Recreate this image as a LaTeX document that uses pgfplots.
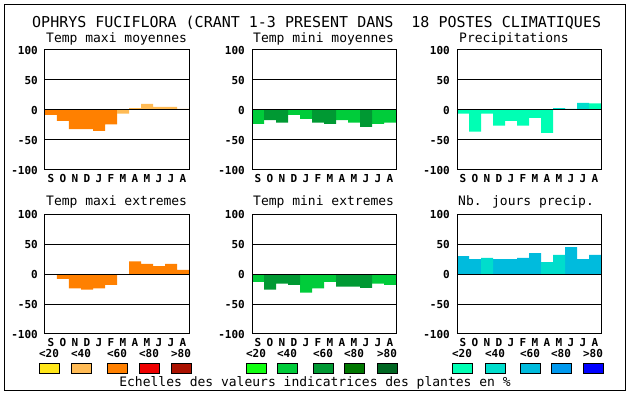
\documentclass[border=0pt]{standalone}
\usepackage{pgfplots}
\pgfplotsset{compat=1.18}
\usepackage{fontspec}
\setmainfont{DejaVu Sans Mono}
\definecolor{or20}{HTML}{FFE619}
\definecolor{or40}{HTML}{FFBB55}
\definecolor{or60}{HTML}{FF8000}
\definecolor{or80}{HTML}{EE0000}
\definecolor{or99}{HTML}{AA1100}
\definecolor{gr20}{HTML}{11FF11}
\definecolor{gr40}{HTML}{00CC3A}
\definecolor{gr60}{HTML}{009933}
\definecolor{gr80}{HTML}{007700}
\definecolor{gr99}{HTML}{006622}
\definecolor{bl20}{HTML}{00FFB4}
\definecolor{bl40}{HTML}{00DDCC}
\definecolor{bl60}{HTML}{00BBDD}
\definecolor{bl80}{HTML}{0099EE}
\definecolor{bl99}{HTML}{0000FF}
\newcommand{\tickfont}{\bfseries\fontsize{11}{11}\selectfont}
\newcommand{\subfont}{\fontsize{13}{13}\selectfont}
\pgfplotsset{panel/.style={
  scale only axis, width=144pt, height=120pt, anchor=south west,
  xmin=-0.5, xmax=11.5, ymin=-100, ymax=100,
  xtick={0,...,11}, xticklabels={S,O,N,D,J,F,M,A,M,J,J,A},
  ytick={-100,-50,0,50,100}, yticklabels={-100,-50,0,50,100},
  major tick length=0pt,
  ymajorgrids, grid style={black, line width=1pt},
  axis line style={line width=1pt},
  axis on top,
  tick label style={font=\tickfont},
  yticklabel style={anchor=east, inner sep=0pt, xshift=-7pt},
  xticklabel style={anchor=north, inner sep=0pt, yshift=-4pt},
  every axis plot/.append style={ybar, bar width=1, bar shift=0pt, draw=none},
}}
\begin{document}
\begin{tikzpicture}[x=1pt,y=1pt]
\useasboundingbox (0,0) rectangle (630,394);
\draw[line width=1pt] (4,3) rectangle (625,389);
\node[anchor=base west, inner sep=0pt, font=\fontsize{15}{15}\selectfont] at (32,366) {OPHRYS FUCIFLORA (CRANT 1-3 PRESENT DANS\ \ 18 POSTES CLIMATIQUES};
% subtitles
\node[anchor=base west, inner sep=0pt, font=\subfont] at (46,351) {Temp maxi moyennes};
\node[anchor=base west, inner sep=0pt, font=\subfont] at (253,351) {Temp mini moyennes};
\node[anchor=base west, inner sep=0pt, font=\subfont] at (459,351) {Precipitations};
\node[anchor=base west, inner sep=0pt, font=\subfont] at (46,188) {Temp maxi extremes};
\node[anchor=base west, inner sep=0pt, font=\subfont] at (253,188) {Temp mini extremes};
\node[anchor=base west, inner sep=0pt, font=\subfont] at (458,188) {Nb. jours precip.};

% Panel 1
\begin{axis}[panel, at={(45pt,224pt)}]
\addplot[fill=or60] coordinates {(0,-8) (1,-18) (2,-32) (3,-32) (4,-35) (5,-24)};
\addplot[fill=or40] coordinates {(6,-6) (7,3) (8,10) (9,5) (10,5) (11,2)};
\end{axis}
% Panel 2
\begin{axis}[panel, at={(252pt,224pt)}]
\addplot[fill=gr40] coordinates {(0,-23) (3,-8) (4,-15) (7,-17) (8,-21) (10,-23) (11,-21)};
\addplot[fill=gr60] coordinates {(1,-17) (2,-21) (5,-21) (6,-23) (9,-28)};
\end{axis}
% Panel 3
\begin{axis}[panel, at={(457pt,224pt)}]
\addplot[fill=bl20] coordinates {(0,-6) (1,-36) (2,-6) (3,-26) (4,-18) (5,-26) (6,-13) (7,-38) (11,11)};
\addplot[fill=bl40] coordinates {(8,3) (9,2) (10,12)};
\end{axis}
% Panel 4
\begin{axis}[panel, at={(45pt,60pt)}]
\addplot[fill=or60] coordinates {(1,-8) (2,-24) (3,-26) (4,-24) (5,-18) (7,21) (8,17) (9,13) (10,17) (11,7)};
\end{axis}
% Panel 5
\begin{axis}[panel, at={(252pt,60pt)}]
\addplot[fill=gr40] coordinates {(0,-13) (4,-31) (5,-24) (6,-13) (10,-16) (11,-18)};
\addplot[fill=gr60] coordinates {(1,-26) (2,-16) (3,-18) (7,-21) (8,-21) (9,-23)};
\end{axis}
% Panel 6
\begin{axis}[panel, at={(457pt,60pt)}]
\addplot[fill=bl60] coordinates {(0,30) (1,25) (3,25) (4,25) (5,27) (6,35) (9,45) (10,25) (11,32)};
\addplot[fill=bl40] coordinates {(2,27) (7,20) (8,32)};
\end{axis}

% legend
\foreach \xa/\c/\t in {39/or20/<20, 71/or40/<40, 107/or60/<60, 139/or80/<80, 171/or99/>80,
                       246/gr20/<20, 277/gr40/<40, 313/gr60/<60, 344/gr80/<80, 377/gr99/>80,
                       452/bl20/<20, 485/bl40/<40, 520/bl60/<60, 551/bl80/<80, 583/bl99/>80} {
  \fill[\c] (\xa,20) rectangle ++(20,10);
  \draw[line width=1pt] (\xa,20) rectangle ++(20,10);
  \node[font=\tickfont, inner sep=0pt, anchor=base] at (\xa+10,36) {\t};
}
\node[anchor=base, inner sep=0pt, font=\subfont] at (315,7) {Echelles des valeurs indicatrices des plantes en \%};
\end{tikzpicture}
\end{document}
